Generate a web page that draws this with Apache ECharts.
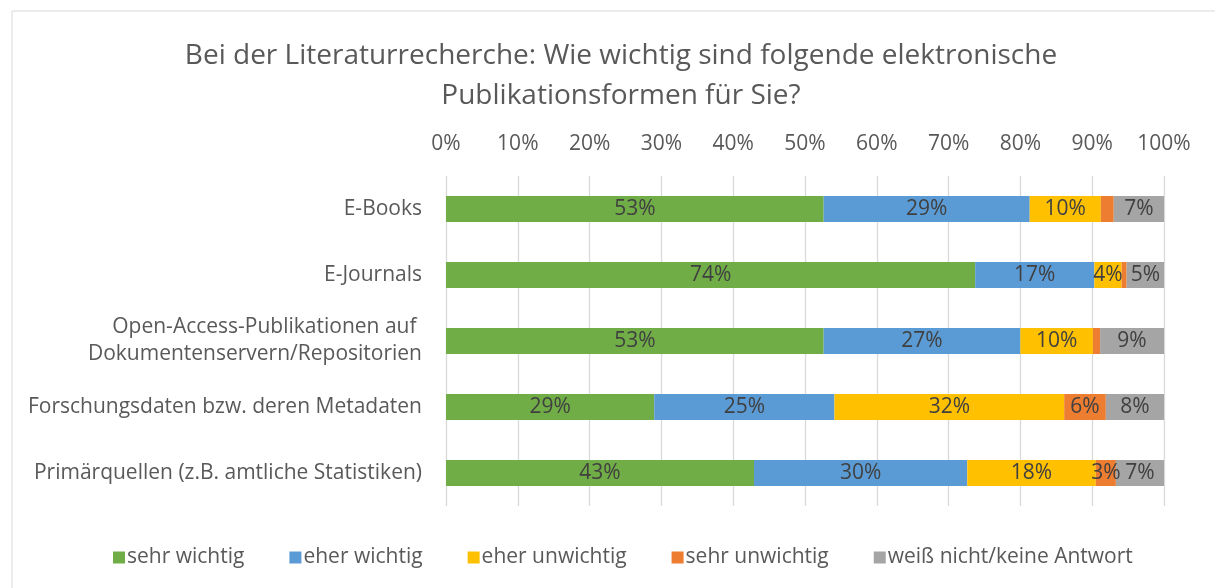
<!DOCTYPE html>
<html><head><meta charset="utf-8">
<script src="https://cdn.jsdelivr.net/npm/echarts@6/dist/echarts.min.js"></script>
<style>html,body{margin:0;padding:0;background:#fff}#c{width:1215px;height:588px}</style>
</head><body><div id="c"></div>
<script>
const categories = ['E-Books','E-Journals','Open-Access-Publikationen auf \nDokumentenservern/Repositorien','Forschungsdaten bzw. deren Metadaten','Primärquellen (z.B. amtliche Statistiken)'];
const seriesNames = ['sehr wichtig','eher wichtig','eher unwichtig','sehr unwichtig','weiß nicht/keine Antwort'];
const sehrWichtig = [52.6, 73.7, 52.6, 29.0, 42.9];
const eherWichtig = [28.7, 16.6, 27.4, 25.1, 29.7];
const eherUnwichtig = [9.9, 3.8, 10.1, 32.0, 17.9];
const sehrUnwichtig = [1.8, 0.7, 1.0, 5.8, 2.8];
const weissNicht = [7.0, 5.2, 8.9, 8.1, 6.7];
const tickLabels = ['0%','10%','20%','30%','40%','50%','60%','70%','80%','90%','100%'];
const colors = ['#70ad47','#5b9bd5','#ffc000','#ed7d31','#a5a5a5'];
const FONT = 'Open Sans';
const values = [sehrWichtig, eherWichtig, eherUnwichtig, sehrUnwichtig, weissNicht];
const chart = echarts.init(document.getElementById('c'));
chart.setOption({
  animation:false,
  color: colors,
  graphic:[{type:'rect',shape:{x:12,y:11,width:1230,height:600},style:{fill:'none',stroke:'#d9d9d9',lineWidth:1},silent:true}],
  title:{text:'Bei der Literaturrecherche: Wie wichtig sind folgende elektronische\nPublikationsformen für Sie?',left:616,top:31,textAlign:'center',
    textStyle:{fontFamily:FONT,fontSize:28,fontWeight:'normal',color:'#595959',lineHeight:40,align:'center'}},
  legend:{bottom:15,left:108,itemWidth:12,itemHeight:12,itemGap:45,icon:'rect',
    textStyle:{fontFamily:FONT,fontSize:21,color:'#595959',padding:[0,0,0,-3]},data:seriesNames},
  grid:{left:446,right:51,top:176,bottom:82},
  xAxis:{type:'value',position:'top',min:0,max:100,interval:10,
    axisLabel:{formatter:(v)=>tickLabels[Math.round(v/10)],fontFamily:FONT,fontSize:21,color:'#595959',margin:21},
    axisLine:{show:false},axisTick:{show:false},
    splitLine:{lineStyle:{color:'#d9d9d9',width:1.3}}},
  yAxis:{type:'category',inverse:true,data:categories,
    axisLine:{show:false},axisTick:{show:false},
    axisLabel:{fontFamily:FONT,fontSize:21,color:'#595959',margin:24,lineHeight:27,align:'right'}},
  series: seriesNames.map((n,i)=>({
    name:n,type:'bar',stack:'t',barWidth:26,data:values[i],
    label:{show:true,position:'inside',fontFamily:FONT,fontSize:21,color:'#404040',
      formatter:(p)=>p.value>=2.5?Math.round(p.value)+'%':''}
  }))
});
</script></body></html>
